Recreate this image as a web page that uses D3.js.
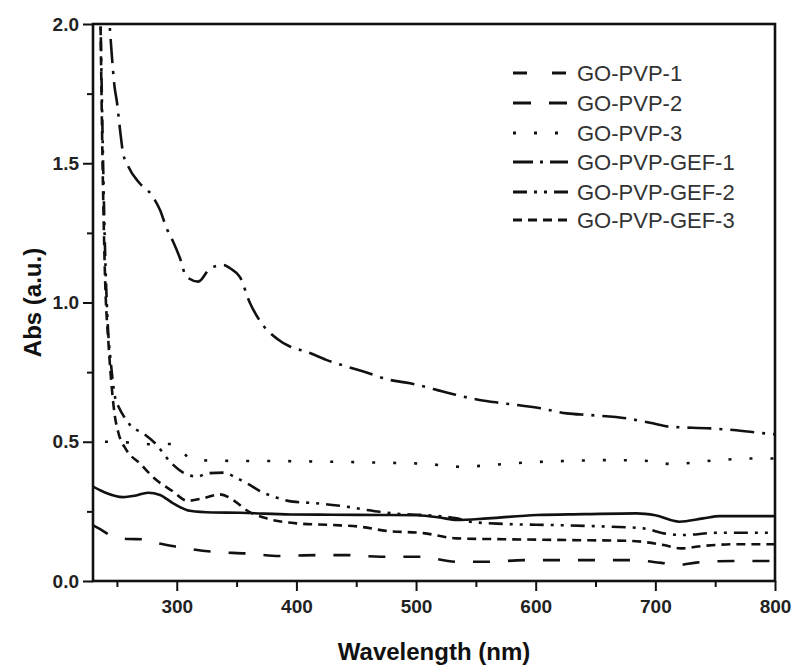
<!DOCTYPE html>
<html>
<head>
<meta charset="utf-8">
<script src="https://cdn.jsdelivr.net/npm/d3@7/dist/d3.min.js"></script>
<style>
  html, body { margin: 0; padding: 0; background: #fff; }
  svg { display: block; font-family: Arial, "Liberation Sans", sans-serif; }
</style>
</head>
<body>
<svg id="chart" width="795" height="666"></svg>
<script>
// series values: [wavelength nm, abs]
const seriesNames = ["GO-PVP-1", "GO-PVP-2", "GO-PVP-3", "GO-PVP-GEF-1", "GO-PVP-GEF-2", "GO-PVP-GEF-3"];

const pvp1 = [[230,0.339],[240,0.318],[255,0.301],[265,0.306],[276,0.317],[286,0.309],[297,0.279],[311,0.252],[330,0.246],[353,0.245],[395,0.239],[430,0.238],[470,0.237],[500,0.236],[520,0.228],[534,0.219],[560,0.225],[601,0.237],[640,0.240],[684,0.243],[700,0.236],[720,0.213],[740,0.225],[754,0.233],[800,0.233]];

const pvp2 = [[230,0.200],[236,0.186],[247,0.159],[260,0.151],[272,0.150],[285,0.135],[300,0.123],[330,0.105],[358,0.099],[386,0.090],[417,0.093],[442,0.093],[470,0.087],[503,0.087],[534,0.069],[562,0.069],[590,0.075],[648,0.075],[679,0.075],[707,0.064],[718,0.057],[734,0.066],[765,0.072],[800,0.072]];

const pvp3 = [[240,0.500],[262,0.497],[283,0.490],[296,0.492],[313,0.437],[330,0.432],[400,0.430],[470,0.425],[510,0.420],[538,0.410],[567,0.418],[591,0.425],[626,0.431],[660,0.434],[690,0.432],[714,0.420],[747,0.432],[783,0.440],[800,0.440]];

const gef1 = [[242,2.10],[244,1.99],[245.6,1.895],[248,1.775],[250,1.72],[252.6,1.62],[255,1.54],[259.5,1.488],[269,1.428],[279,1.386],[286,1.332],[291.6,1.266],[297,1.218],[302.7,1.159],[308,1.093],[318,1.075],[328,1.123],[339,1.135],[344.5,1.123],[353,1.090],[361,1.000],[372,0.919],[383.5,0.871],[395,0.841],[408.6,0.823],[425,0.794],[442,0.770],[456,0.752],[478,0.722],[495,0.710],[528,0.674],[553,0.650],[573,0.638],[604,0.620],[626,0.602],[645,0.596],[676,0.584],[695.5,0.568],[712,0.554],[746,0.548],[765,0.542],[792,0.530],[800,0.527]];

const gef2 = [[236,2.10],[238,1.60],[240,1.20],[242,0.95],[245,0.78],[248,0.67],[252,0.62],[256,0.59],[261,0.56],[272,0.53],[283,0.49],[294,0.43],[305,0.39],[317,0.375],[326,0.387],[339,0.389],[350,0.370],[361,0.345],[371,0.320],[383,0.300],[397,0.285],[414,0.280],[430,0.273],[442,0.267],[459,0.255],[480,0.243],[510,0.236],[534,0.225],[545,0.213],[573,0.205],[614,0.201],[662,0.195],[690,0.189],[707,0.171],[723,0.165],[751,0.173],[800,0.173]];

const gef3 = [[236,2.10],[238,1.50],[240,1.10],[243,0.85],[246,0.68],[248,0.60],[251,0.536],[258,0.470],[269,0.423],[282,0.366],[296,0.324],[309,0.288],[322,0.297],[336,0.311],[349,0.285],[358,0.255],[375,0.225],[400,0.207],[430,0.201],[453,0.195],[475,0.180],[506,0.172],[534,0.153],[573,0.150],[629,0.147],[679,0.144],[707,0.129],[721,0.117],[740,0.126],[768,0.132],[800,0.132]];

const xTicks = [300, 400, 500, 600, 700, 800];
const xMinor = [250, 350, 450, 550, 650, 750];
const yTicks = [0, 0.5, 1.0, 1.5, 2.0];
const yMinor = [0.25, 0.75, 1.25, 1.75];

const svg = d3.select("#chart");
const plotL = 93, plotR = 775, plotT = 24, plotB = 581;

const x = d3.scaleLinear().domain([230, 800]).range([plotL, plotR]);
const y = d3.scaleLinear().domain([0, 2]).range([plotB, plotT]);

svg.append("defs").append("clipPath").attr("id", "plot")
  .append("rect").attr("x", plotL).attr("y", plotT).attr("width", plotR - plotL).attr("height", plotB - plotT);

// curves: data, dash pattern in plot, dash pattern in legend
const curves = [
  { data: pvp1, dash: null, legendDash: "14,25" },
  { data: pvp2, dash: "17,18", legendDash: "18,18" },
  { data: pvp3, dash: "3,18", legendDash: "3,18" },
  { data: gef1, dash: "24,8,3,8", legendDash: "20,7,3,7" },
  { data: gef2, dash: "14,7,3,7,3,7", legendDash: "14,7,3,7,3,7" },
  { data: gef3, dash: "9,6", legendDash: "9,6" }
];

const line = d3.line().x(d => x(d[0])).y(d => y(d[1])).curve(d3.curveMonotoneX);

const plot = svg.append("g").attr("clip-path", "url(#plot)");
curves.forEach(c => {
  plot.append("path")
    .attr("d", line(c.data))
    .attr("fill", "none")
    .attr("stroke", "#111")
    .attr("stroke-width", 2.6)
    .attr("stroke-dasharray", c.dash);
});

// axes
svg.append("g").attr("transform", `translate(0,${plotB})`)
  .call(d3.axisBottom(x).tickValues(xTicks).tickSize(10).tickPadding(9).tickFormat(d3.format("d")));
svg.append("g").attr("transform", `translate(0,${plotB})`)
  .call(d3.axisBottom(x).tickValues(xMinor).tickSize(6).tickFormat(""));
svg.append("g").attr("transform", `translate(${plotL},0)`)
  .call(d3.axisLeft(y).tickValues(yTicks).tickSize(10).tickPadding(4).tickFormat(d3.format(".1f")));
svg.append("g").attr("transform", `translate(${plotL},0)`)
  .call(d3.axisLeft(y).tickValues(yMinor).tickSize(6).tickFormat(""));

svg.selectAll(".domain").remove();
svg.selectAll(".tick line").attr("stroke", "#111").attr("stroke-width", 2);
svg.selectAll(".tick text")
  .attr("fill", "#222")
  .style("font-size", "19px")
  .style("font-weight", "bold");

// frame
svg.append("rect")
  .attr("x", plotL).attr("y", plotT)
  .attr("width", plotR - plotL).attr("height", plotB - plotT)
  .attr("fill", "none").attr("stroke", "#111").attr("stroke-width", 2.6);

// axis titles
svg.append("text")
  .attr("x", (plotL + plotR) / 2).attr("y", 660)
  .attr("text-anchor", "middle")
  .attr("fill", "#111")
  .style("font-size", "24px").style("font-weight", "bold")
  .text("Wavelength (nm)");

svg.append("text")
  .attr("transform", `translate(41,${(plotT + plotB) / 2}) rotate(-90)`)
  .attr("text-anchor", "middle")
  .attr("fill", "#111")
  .style("font-size", "24px").style("font-weight", "bold")
  .text("Abs (a.u.)");

// legend
const legendY = [73, 103, 133, 162, 192, 220];
seriesNames.forEach((name, i) => {
  const g = svg.append("g").attr("transform", `translate(513,${legendY[i]})`);
  g.append("line")
    .attr("x1", 0).attr("x2", 55).attr("y1", 0).attr("y2", 0)
    .attr("stroke", "#111").attr("stroke-width", 3)
    .attr("stroke-dasharray", curves[i].legendDash);
  g.append("text")
    .attr("x", 64).attr("y", 0).attr("dy", "0.36em")
    .attr("fill", "#333")
    .style("font-size", "22px")
    .text(name);
});
</script>
</body>
</html>
